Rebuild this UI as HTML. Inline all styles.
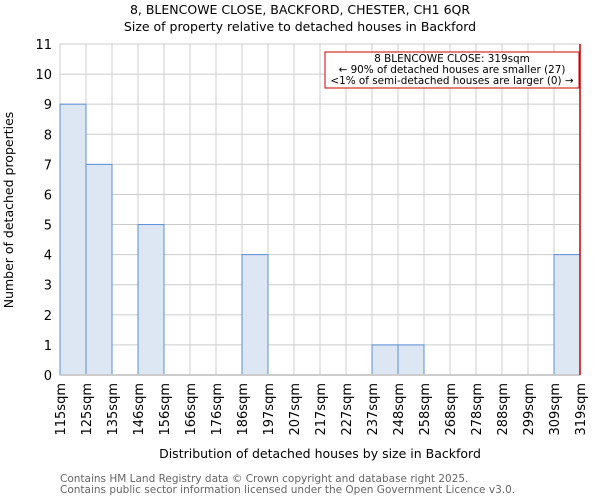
<!DOCTYPE html>
<html><head><meta charset="utf-8"><style>
body{margin:0;background:#fff}
svg{display:block;font-family:"DejaVu Sans","Liberation Sans",sans-serif}
</style></head><body>
<svg id="c" width="600" height="500">
<text x="300" y="14" text-anchor="middle" font-size="12.5">8, BLENCOWE CLOSE, BACKFORD, CHESTER, CH1 6QR</text>
<text x="300" y="31" text-anchor="middle" font-size="12.5">Size of property relative to detached houses in Backford</text>
<text transform="translate(13,210) rotate(-90)" text-anchor="middle" font-size="12.5">Number of detached properties</text>
<text x="320" y="458" text-anchor="middle" font-size="12.5">Distribution of detached houses by size in Backford</text>
<text x="60" y="482" font-size="10.5" fill="#666">Contains HM Land Registry data © Crown copyright and database right 2025.</text>
<text x="60" y="493" font-size="10.5" fill="#666">Contains public sector information licensed under the Open Government Licence v3.0.</text>
<g id="plot"></g>
</svg>
<script>
const binLabels=["115sqm","125sqm","135sqm","146sqm","156sqm","166sqm","176sqm","186sqm","197sqm","207sqm","217sqm","227sqm","237sqm","248sqm","258sqm","268sqm","278sqm","288sqm","299sqm","309sqm","319sqm"];
const counts=[9,7,0,5,0,0,0,4,0,0,0,0,1,1,0,0,0,0,0,4];
const yTicks=[0,1,2,3,4,5,6,7,8,9,10,11];
const markerIndex=20;
const L=60,R=580,T=44,B=375,yMax=11;
const NS="http://www.w3.org/2000/svg";
const g=document.getElementById('plot');
const xs=i=>L+(R-L)*i/counts.length;
const ys=v=>B-(B-T)*v/yMax;
function mk(t,a){const e=document.createElementNS(NS,t);for(const k in a)e.setAttribute(k,a[k]);g.appendChild(e);return e;}
yTicks.forEach(v=>{
 const l=mk('line',{x1:L,x2:R,y1:ys(v),y2:ys(v),stroke:'#ccc'});
 
 
 const t=mk('text',{x:L-8,y:ys(v)+5,'text-anchor':'end','font-size':'13'});t.textContent=v;
 
 
});
binLabels.forEach((s,i)=>{
 const l=mk('line',{x1:xs(i),x2:xs(i),y1:T,y2:B,stroke:'#ccc'});
 
 
 const t=mk('text',{transform:`translate(${xs(i)+5},383) rotate(-90)`,'text-anchor':'end','font-size':'13'});t.textContent=s;
 
 
});
counts.forEach((c,i)=>{if(!c)return;
 const r=mk('rect',{x:xs(i),y:ys(c),width:xs(i+1)-xs(i),height:ys(0)-ys(c),fill:'#dde6f3',stroke:'#5b8fd6','stroke-width':1});
 
 
});
const ax=mk('line',{x1:L,x2:R,y1:B,y2:B,stroke:'#ccc','stroke-width':2});


const m=mk('line',{x1:xs(markerIndex),x2:xs(markerIndex),y1:T,y2:B,stroke:'#c00','stroke-width':1.5});


const box=mk('rect',{x:325,y:52,width:254,height:36,fill:'#fff',stroke:'#c00'});


["8 BLENCOWE CLOSE: 319sqm","← 90% of detached houses are smaller (27)","<1% of semi-detached houses are larger (0) →"].forEach((s,i)=>{
 const t=mk('text',{x:452,y:62+i*11,'text-anchor':'middle','font-size':'10.4'});t.textContent=s;
 
 
});
</script>
</body></html>
